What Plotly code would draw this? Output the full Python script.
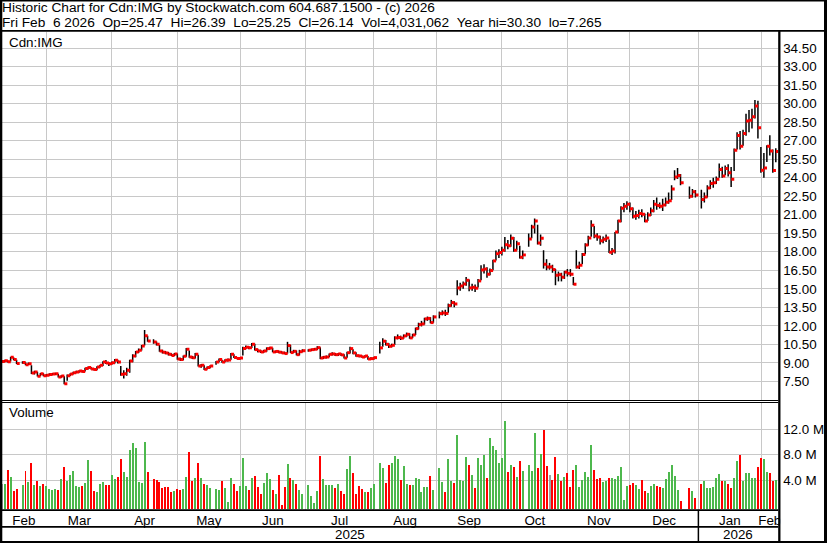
import numpy as np
import pandas as pd
import plotly.graph_objects as go

# Stockwatch daily bars for Cdn:IMG, 2025-02-07 .. 2026-02-06
FIRST_DAY = "2025-02-07"
LAST_DAY = "2026-02-06"
AXIS_ORIGIN = "2025-02-06"
holidays = ["2025-02-17", "2025-04-18", "2025-05-19", "2025-07-01", "2025-08-04",
            "2025-09-01", "2025-10-13", "2025-12-25", "2025-12-26", "2026-01-01"]

close = [
    9.10, 9.16, 9.08, 9.45, 9.26, 8.95, 9.02, 8.85, 8.93, 8.18, 8.26, 7.91, 8.12, 7.95, 8.00,
    8.05, 8.10, 8.12, 7.85, 7.92, 7.30, 7.95, 8.10, 8.20, 8.26, 8.34, 8.30, 8.53, 8.61, 8.50, 8.45, 8.66, 8.80, 9.07, 8.99, 8.93,
    9.00, 9.20, 9.07, 8.07, 8.12, 8.39, 9.15, 9.55, 9.88, 10.01, 10.37, 11.20, 10.77, 10.69, 10.50, 9.96, 9.85, 9.80, 9.69, 9.60, 9.72,
    9.31, 9.26, 9.53, 10.10, 9.47, 9.40, 9.69, 8.74, 8.80, 8.47, 8.61, 8.74, 9.07, 9.26, 9.07, 9.20, 9.22, 9.69, 9.42, 9.34, 9.38,
    10.15, 10.26, 10.22, 10.50, 10.07, 9.96, 9.88, 9.96, 10.15, 10.20, 9.88, 9.92, 9.86, 9.80, 9.75, 10.40, 9.83, 9.93, 9.66, 9.90, 9.98,
    10.02, 10.07, 10.10, 10.23, 9.39, 9.45, 9.47, 9.69, 9.72, 9.66, 9.72, 9.64, 9.39, 9.82, 10.15, 9.80, 9.58, 9.55, 9.47, 9.55, 9.31, 9.34,
    9.42, 10.21, 10.75, 10.50, 10.34, 10.42, 11.02, 11.05, 11.00, 11.18, 11.31, 11.02, 11.26, 11.77, 12.10, 12.15, 12.56, 12.60, 12.26, 12.72,
    12.99, 13.04, 13.00, 13.64, 13.88, 13.77, 15.07, 15.23, 15.39, 15.69, 15.07, 15.12, 15.05, 15.64, 16.53, 16.60, 16.18, 16.48, 17.26, 17.85, 17.94,
    18.12, 18.58, 18.48, 19.10, 18.12, 18.66, 17.56, 17.75, 19.04, 20.02, 20.50, 18.72, 19.10, 16.99, 16.77, 16.77, 16.56, 16.10, 16.15, 15.94, 16.35, 16.25,
    16.18, 15.37, 16.77, 16.91, 17.78, 18.56, 19.12, 20.15, 19.28, 19.20, 18.90, 19.02, 19.11, 17.96, 18.07, 19.61, 20.50, 21.53, 21.69, 21.86,
    21.48, 20.88, 20.95, 21.10, 21.05, 20.50, 20.99, 21.32, 21.86, 21.75, 21.70, 21.80, 22.02, 22.13, 23.10, 24.07, 24.18, 23.59, 22.50, 22.86, 22.61,
    22.24, 22.45, 23.18, 23.53, 23.60, 23.88, 24.67, 24.15, 24.75, 24.40, 23.88, 26.23, 27.42, 26.56, 27.59, 28.61, 28.67, 28.94, 29.83, 28.05, 24.61,
    24.80, 26.56, 26.18, 24.59, 26.14,
]
high = [
    9.22, 9.25, 9.20, 9.50, 9.45, 9.25, 9.12, 9.05, 9.02, 8.80, 8.35, 8.28, 8.18, 8.15, 8.10,
    8.15, 8.18, 8.20, 8.12, 8.00, 7.90, 8.05, 8.15, 8.28, 8.35, 8.40, 8.42, 8.60, 8.70, 8.65, 8.55, 8.72, 8.85, 9.12, 9.22, 9.05,
    9.10, 9.30, 9.25, 8.75, 8.40, 8.60, 9.25, 9.70, 9.95, 10.15, 10.45, 11.65, 11.20, 10.90, 10.72, 10.45, 10.05, 9.95, 9.88, 9.78, 9.80,
    9.75, 9.40, 9.60, 10.20, 10.00, 9.55, 9.80, 9.65, 8.90, 8.80, 8.70, 8.80, 9.15, 9.35, 9.25, 9.28, 9.35, 9.80, 9.70, 9.48, 9.45,
    10.30, 10.40, 10.35, 10.60, 10.55, 10.15, 10.05, 10.05, 10.25, 10.30, 10.22, 10.00, 10.00, 9.95, 9.90, 10.70, 10.45, 10.05, 10.00, 10.05, 10.10,
    10.10, 10.15, 10.20, 10.35, 10.25, 9.55, 9.60, 9.75, 9.85, 9.80, 9.80, 9.78, 9.70, 9.90, 10.30, 10.10, 9.85, 9.65, 9.60, 9.62, 9.55, 9.45,
    9.50, 10.70, 11.00, 10.85, 10.60, 10.55, 11.15, 11.30, 11.20, 11.30, 11.45, 11.40, 11.35, 11.85, 12.25, 12.40, 12.65, 12.75, 12.70, 12.85,
    13.15, 13.25, 13.30, 13.80, 14.10, 14.00, 15.69, 15.50, 15.60, 15.95, 15.75, 15.40, 15.35, 15.80, 16.90, 17.00, 16.75, 16.65, 17.35, 18.10, 18.20,
    18.40, 19.20, 18.95, 19.40, 19.20, 18.90, 18.50, 18.10, 19.48, 20.20, 20.70, 20.20, 19.40, 18.12, 17.40, 17.10, 16.95, 16.60, 16.40, 16.30, 16.45, 16.60,
    16.60, 15.96, 18.13, 17.20, 17.90, 18.70, 19.30, 20.56, 20.10, 19.50, 19.30, 19.25, 19.40, 19.00, 18.30, 19.61, 20.60, 21.70, 21.95, 22.10,
    22.00, 21.60, 21.30, 21.40, 21.45, 21.10, 21.20, 21.60, 22.20, 22.40, 22.00, 22.30, 22.40, 22.80, 23.40, 24.61, 24.80, 24.30, 23.30, 23.10, 23.00,
    23.04, 22.80, 23.40, 23.80, 24.00, 24.10, 25.15, 24.90, 25.00, 25.10, 24.88, 26.37, 27.70, 27.80, 27.90, 29.20, 29.50, 29.60, 30.30, 30.25, 26.50,
    26.00, 26.64, 27.45, 26.30, 26.39,
]
low = [
    9.00, 9.05, 9.02, 9.10, 9.20, 8.90, 8.92, 8.80, 8.82, 8.10, 8.05, 7.88, 7.90, 7.90, 7.88,
    7.95, 8.00, 8.02, 7.80, 7.78, 7.265, 7.55, 7.92, 8.05, 8.15, 8.20, 8.22, 8.30, 8.45, 8.45, 8.38, 8.40, 8.60, 8.75, 8.90, 8.75,
    8.85, 8.95, 8.95, 7.95, 7.72, 7.95, 8.20, 9.05, 9.45, 9.80, 10.00, 10.40, 10.70, 10.55, 10.40, 9.90, 9.75, 9.70, 9.60, 9.55, 9.55,
    9.25, 9.15, 9.20, 9.50, 9.40, 9.30, 9.35, 8.70, 8.60, 8.42, 8.45, 8.55, 8.85, 9.05, 9.00, 9.05, 9.10, 9.25, 9.38, 9.28, 9.25,
    9.60, 10.10, 10.10, 10.20, 10.00, 9.85, 9.80, 9.80, 9.90, 10.05, 9.85, 9.80, 9.78, 9.75, 9.70, 9.75, 9.80, 9.80, 9.60, 9.60, 9.85,
    9.90, 9.95, 10.00, 10.05, 9.30, 9.30, 9.35, 9.45, 9.60, 9.55, 9.55, 9.55, 9.35, 9.40, 9.75, 9.70, 9.50, 9.45, 9.40, 9.40, 9.25, 9.25,
    9.25, 9.75, 10.30, 10.40, 10.20, 10.25, 10.45, 10.90, 10.85, 10.95, 11.10, 10.95, 11.00, 11.25, 11.70, 11.95, 12.10, 12.40, 12.20, 12.25,
    12.60, 12.85, 12.80, 13.05, 13.55, 13.50, 14.48, 14.85, 15.00, 15.25, 14.80, 14.85, 14.75, 15.10, 15.70, 16.25, 15.90, 16.10, 16.50, 17.30, 17.50,
    17.70, 18.00, 18.20, 18.40, 18.00, 18.10, 17.45, 17.40, 18.40, 19.10, 19.48, 18.60, 18.50, 16.64, 16.50, 16.55, 16.30, 15.29, 15.60, 15.60, 15.80, 16.00,
    16.00, 15.30, 16.64, 16.60, 17.00, 17.80, 18.50, 19.21, 19.10, 18.90, 18.60, 18.70, 18.80, 17.90, 17.75, 17.86, 19.50, 20.40, 21.20, 21.40,
    21.20, 20.70, 20.60, 20.70, 20.80, 20.40, 20.50, 20.90, 21.20, 21.40, 21.50, 21.30, 21.70, 21.90, 22.20, 23.80, 23.90, 23.40, 22.30, 22.40, 22.40,
    21.50, 22.00, 22.40, 23.10, 23.20, 23.50, 24.00, 24.00, 24.20, 24.10, 23.26, 24.56, 26.30, 26.30, 26.60, 27.40, 27.70, 28.00, 28.80, 27.18, 24.40,
    24.00, 25.29, 25.80, 24.40, 25.25,
]
volume_m = [
    3.43, 3.43, 5.60, 4.52, 2.34, 2.75, 3.27, 5.45, 3.74, 6.69, 3.27, 3.89, 3.12, 3.53, 3.12,
    2.65, 2.49, 2.65, 2.49, 4.20, 6.07, 3.89, 4.83, 5.45, 3.12, 2.96, 3.12, 3.58, 7.16, 5.45, 2.34, 2.18, 3.43, 3.74, 3.27, 3.27,
    4.83, 4.20, 4.52, 7.31, 5.29, 4.52, 8.71, 9.80, 9.08, 3.74, 3.58, 9.96, 5.29, 4.20, 4.05, 3.79, 2.80, 2.96, 2.96, 2.18, 2.34,
    2.65, 2.55, 2.65, 4.52, 8.40, 3.89, 4.36, 6.69, 4.36, 3.43, 3.27, 2.80, 2.65, 2.49, 3.89, 2.80, 0.63, 4.36, 3.43, 2.34, 3.12,
    7.47, 3.12, 2.49, 4.36, 4.67, 2.96, 1.87, 3.58, 5.14, 4.20, 2.49, 1.87, 4.83, 0.16, 2.96, 6.54, 4.36, 4.05, 3.43, 2.60, 1.97,
    3.27, 1.56, 0.47, 2.34, 7.78, 4.20, 3.27, 3.27, 3.27, 2.80, 3.43, 2.34, 1.87, 5.76, 7.78, 5.14, 1.87, 3.12, 2.65, 2.18, 2.18, 2.80,
    3.43, 6.74, 5.91, 3.58, 6.38, 6.69, 7.78, 7.31, 4.05, 6.23, 3.43, 3.27, 3.27, 4.36, 4.20, 2.18, 2.96, 2.96, 4.67, 2.49,
    5.91, 3.74, 2.18, 7.31, 3.89, 3.58, 11.05, 4.05, 3.89, 7.62, 6.38, 4.83, 2.80, 7.47, 6.38, 7.94, 4.36, 10.58, 9.34, 8.71, 6.69,
    7.47, 13.22, 5.29, 6.38, 6.07, 4.52, 7.00, 5.45, 6.38, 5.45, 11.36, 5.91, 8.09, 11.82, 6.23, 4.83, 4.05, 7.62, 4.98, 3.89, 4.52, 5.14,
    2.96, 5.60, 6.38, 2.96, 4.05, 5.29, 4.52, 9.49, 5.60, 4.20, 4.36, 3.74, 3.89, 4.36, 4.36, 4.20, 4.67, 6.07, 0.94, 3.12,
    3.27, 3.58, 3.27, 2.65, 4.05, 2.34, 2.03, 3.12, 3.43, 3.12, 2.96, 2.80, 4.20, 5.29, 6.38, 4.67, 2.49, 0.78, 2.80, 2.34, 1.25,
    3.43, 3.94, 2.80, 2.80, 3.01, 4.46, 4.98, 3.89, 3.89, 3.43, 2.80, 4.46, 7.05, 7.94, 3.94, 5.14, 5.14, 4.46, 4.46, 6.07, 7.47,
    7.31, 5.29, 5.14, 3.89, 4.031062,
]
last_open = 25.47

price_ticks = [7.5, 9.0, 10.5, 12.0, 13.5, 15.0, 16.5, 18.0, 19.5, 21.0, 22.5, 24.0,
               25.5, 27.0, 28.5, 30.0, 31.5, 33.0, 34.5]
volume_ticks_m = [4.0, 8.0, 12.0]
month_starts = ["2025-03-01", "2025-04-01", "2025-05-01", "2025-06-01", "2025-07-01", "2025-08-01",
                "2025-09-01", "2025-10-01", "2025-11-01", "2025-12-01", "2026-01-01", "2026-02-01"]
month_names = ["Feb", "Mar", "Apr", "May", "Jun", "Jul", "Aug", "Sep", "Oct", "Nov", "Dec", "Jan", "Feb"]
year_names = ["2025", "2026"]

W, H = 830, 543
FONT = "Liberation Sans, Arial, sans-serif"
GRID = "#c8c8c8"
UP, DOWN, FLAT = "#4db84d", "#ff0000", "#a0a0a0"


def fx(px):
    return px / W


def fy(py):
    return 1 - py / H


# trading days laid out on a weekday axis (holidays stay as empty slots)
days = pd.bdate_range(FIRST_DAY, LAST_DAY)
days = days[~days.isin(pd.to_datetime(holidays))]
x = np.busday_count(AXIS_ORIGIN, days.values.astype("datetime64[D]")).astype(float)

x_lo, x_hi = 0.77, 261.8
grid_x = []
for d in pd.to_datetime(month_starts):
    pos = float(np.busday_count(AXIS_ORIGIN, np.datetime64(d.date())))
    if d.weekday() >= 5:
        pos -= 0.85
    grid_x.append(pos)
edges = [x_lo] + grid_x + [x_hi]
month_mid = [(a + b) / 2 for a, b in zip(edges[:-1], edges[1:])]
year_mid = [(x_lo + grid_x[10]) / 2, (grid_x[10] + x_hi) / 2]

colors = [FLAT]
for prev, cur in zip(close[:-1], close[1:]):
    colors.append(UP if cur > prev else DOWN if cur < prev else FLAT)

bar_x, bar_y = [], []
for xi, lo_, hi_ in zip(x, low, high):
    bar_x += [xi, xi, None]
    bar_y += [lo_, hi_, None]

VOL_FLOOR = -0.5e6
vol = np.array(volume_m) * 1e6

fig = go.Figure()
fig.add_trace(go.Scatter(x=bar_x, y=bar_y, mode="lines", line=dict(color="black", width=1.5),
                         hoverinfo="skip", showlegend=False))
fig.add_trace(go.Scatter(x=x + 0.55, y=close, mode="markers",
                         marker=dict(symbol="square", size=3, color="#ff0000", line=dict(width=0)),
                         showlegend=False))
fig.add_trace(go.Bar(x=x, y=vol - VOL_FLOOR, base=VOL_FLOOR, width=0.67, marker_color=colors,
                     marker_line_width=0, xaxis="x2", yaxis="y2", showlegend=False))

x_dom = [fx(1), fx(781)]
fig.update_layout(
    width=W, height=H, autosize=False,
    margin=dict(l=0, r=0, t=0, b=0, pad=0),
    paper_bgcolor="white", plot_bgcolor="white",
    font=dict(family=FONT, size=13, color="black"),
    showlegend=False, bargap=0,
    xaxis=dict(domain=x_dom, range=[x_lo, x_hi], anchor="y", tickmode="array", tickvals=grid_x,
               showticklabels=False, ticks="", showgrid=True, gridcolor=GRID, gridwidth=1,
               zeroline=False, showline=False),
    yaxis=dict(domain=[fy(400), fy(32)], range=[5.984, 35.82], side="right", anchor="x",
               tickmode="array", tickvals=price_ticks, ticktext=[f"{v:.2f}" for v in price_ticks],
               ticks="", ticklabelstandoff=4, showgrid=True, gridcolor=GRID, gridwidth=1,
               zeroline=False, showline=False, tickfont=dict(size=13.4, color="black")),
    xaxis2=dict(domain=x_dom, range=[x_lo, x_hi], anchor="y2", matches="x",
                tickmode="array", tickvals=month_mid, ticktext=month_names, ticks="",
                ticklabelstandoff=1, showgrid=False, zeroline=False, showline=False,
                tickfont=dict(size=13.4, color="black"),
                minor=dict(tickmode="array", tickvals=grid_x, showgrid=True, gridcolor=GRID,
                           gridwidth=1, ticks="")),
    yaxis2=dict(domain=[fy(509.5), fy(403)], range=[-0.505e6, 16.04e6], side="right", anchor="x2",
                tickmode="array", tickvals=[v * 1e6 for v in volume_ticks_m],
                ticktext=[f"{v:.1f} M" for v in volume_ticks_m], ticks="", ticklabelstandoff=4,
                showgrid=True, gridcolor=GRID, gridwidth=1, zeroline=False, showline=False,
                tickfont=dict(size=13.4, color="black")),
)

NB = "\u00a0"
hdr1 = "Historic Chart for Cdn:IMG by Stockwatch.com 604.687.1500 - (c) 2026"
hdr2 = (f"Fri Feb {NB}6 2026 {NB}Op={last_open:.2f} {NB}Hi={high[-1]:.2f} {NB}Lo={low[-1]:.2f}"
        f" {NB}Cl={close[-1]:.2f} {NB}Vol={int(round(volume_m[-1] * 1e6)):,}"
        f" {NB}Year hi={max(high):.2f} {NB}lo={min(low):.3f}")

annots = [
    dict(text=hdr1, x=fx(1), y=fy(7.5), font=dict(size=13.7, color="black")),
    dict(text=hdr2, x=fx(1), y=fy(22), font=dict(size=13.7, color="black")),
    dict(text="Cdn:IMG", x=fx(8), y=fy(42), font=dict(size=13.4, color="black")),
    dict(text="Volume", x=fx(8), y=fy(413), font=dict(size=13.4, color="black")),
]
for a in annots:
    fig.add_annotation(xref="paper", yref="paper", xanchor="left", yanchor="middle",
                       showarrow=False, borderpad=0, **a)
for name, xm in zip(year_names, year_mid):
    fig.add_annotation(text=name, xref="x2", yref="paper", x=xm, y=fy(534.5), xanchor="center",
                       yanchor="middle", showarrow=False, font=dict(size=13.4, color="black"))


def block(x0, y0, x1, y1, color="black"):
    fig.add_shape(type="rect", xref="paper", yref="paper", layer="above",
                  x0=fx(x0), x1=fx(x1), y0=fy(y0), y1=fy(y1),
                  fillcolor=color, line=dict(width=0))


# hide the month label that runs past the chart edge
block(783, 511, 828, 526, "white")
# frame
block(0, 0, 830, 1.5)
block(0, 541, 830, 543)
block(0, 0, 2.3, 543)
block(827, 0, 830, 543)
block(0, 30, 830, 31.8)
block(781, 31, 783.3, 543)
block(0, 400, 781, 401)
block(0, 402, 781, 403)
block(0, 509.3, 781, 511)
block(0, 526, 781, 527.8)
fig.add_shape(type="line", xref="x2", yref="paper", layer="above", x0=grid_x[10], x1=grid_x[10],
              y0=fy(511), y1=fy(541), line=dict(color="black", width=1.5))

# the page itself must not add a margin round the 830x543 figure
fig.write_html("out.html", config={"displayModeBar": False, "staticPlot": True},
               post_script="document.body.style.margin='0';"
                           "document.body.style.overflow='hidden';")
